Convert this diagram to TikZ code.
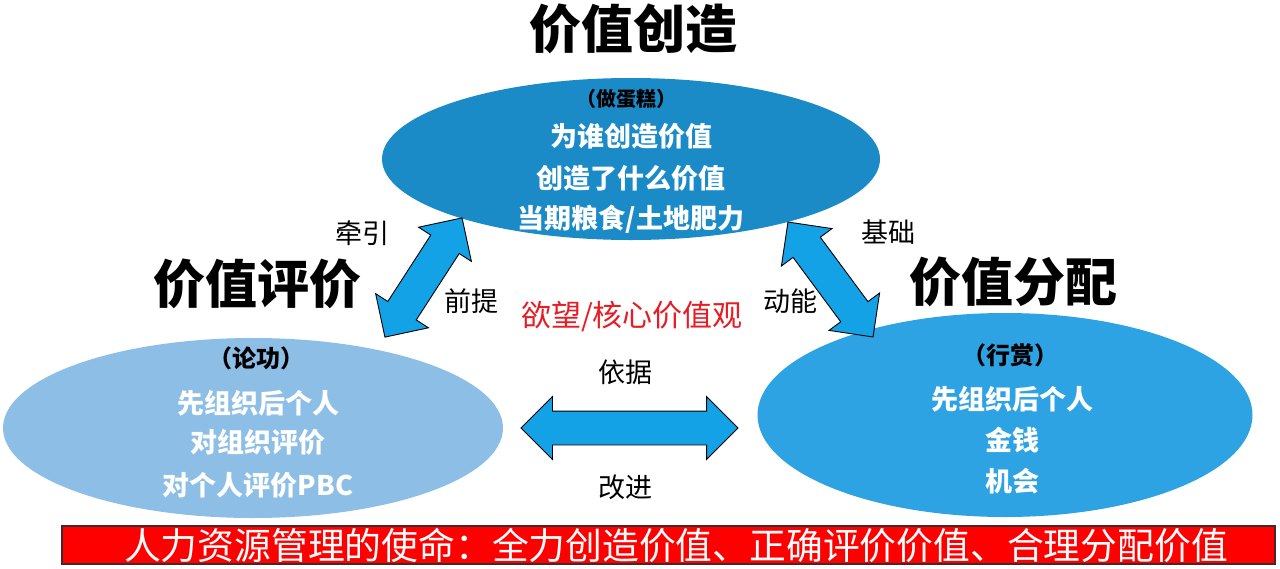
\documentclass[tikz,border=0pt]{standalone}
\usepackage{fontspec}
\newfontfamily\cjk{Noto Sans CJK SC}
\usetikzlibrary{shapes.geometric,shapes.arrows}
\definecolor{topblue}{RGB}{27,139,200}
\definecolor{leftblue}{RGB}{141,190,230}
\definecolor{rightblue}{RGB}{45,163,227}
\definecolor{arrowblue}{RGB}{20,162,230}
\definecolor{labelred}{RGB}{232,28,36}
\definecolor{bannerred}{RGB}{255,0,0}
\definecolor{bannerline}{RGB}{70,40,40}
\begin{document}
\begin{tikzpicture}[x=1pt,y=-1pt,
  ell/.style={ellipse, draw=none, inner sep=0pt},
  bigtitle/.style={font=\cjk\bfseries\fontsize{52}{60}\selectfont, text=black, inner sep=0pt},
  head/.style={font=\cjk\bfseries\fontsize{24}{28}\selectfont, text=black, inner sep=0pt},
  line/.style={font=\cjk\bfseries\fontsize{27}{32}\selectfont, text=white, inner sep=0pt},
  lbl/.style={font=\cjk\fontsize{27}{32}\selectfont, text=black, inner sep=0pt},
  redlbl/.style={font=\cjk\fontsize{30}{34}\selectfont, text=labelred, inner sep=0pt},
  blockarrow/.style={double arrow, draw=black, line width=0.9pt, fill=arrowblue,
     inner xsep=0pt, inner ysep=16.5pt, double arrow head extend=14.5pt,
     double arrow tip angle=90, minimum width=1pt}
]
\useasboundingbox (0,0) rectangle (1280,568);
\fill[white] (0,0) rectangle (1280,568);

% ellipses
\node[ell, fill=topblue, minimum width=498pt, minimum height=162pt] (create) at (631,159) {};
\node[ell, fill=leftblue, minimum width=500pt, minimum height=180pt] (eval) at (253,428) {};
\node[ell, fill=rightblue, minimum width=495pt, minimum height=204pt] (dist) at (1005,415) {};

% titles
\node[bigtitle] (t1) at (633,29) {价值创造};
\node[bigtitle] (t2) at (257,284) {价值评价};
\node[bigtitle] (t3) at (1013,282) {价值分配};

% top ellipse text
\node[head, font=\cjk\bfseries\fontsize{20}{24}\selectfont] (c0) at (626,99) {（做蛋糕）};
\node[line] (c1) at (631,136) {为谁创造价值};
\node[line] (c2) at (631,178) {创造了什么价值};
\node[line] (c3) at (631,219) {当期粮食/土地肥力};

% left ellipse text
\node[head] (e0) at (256,358) {（论功）};
\node[line] (e1) at (258,403) {先组织后个人};
\node[line] (e2) at (258,442) {对组织评价};
\node[line] (e3) at (258,485) {对个人评价PBC};

% right ellipse text
\node[head] (d0) at (1010,355) {（行赏）};
\node[line] (d1) at (1012,399) {先组织后个人};
\node[line] (d2) at (1012,440) {金钱};
\node[line] (d3) at (1012,481) {机会};

% block arrows
\node[blockarrow, minimum height=142pt, rotate=57.1] (aleft) at (423.5,277.5) {};
\node[blockarrow, minimum height=143pt, rotate=-53.5] (aright) at (830.5,279.5) {};
\node[blockarrow, minimum height=217pt] (amid) at (629.5,428) {};

% labels
\node[lbl] (l1) at (362,233) {牵引};
\node[lbl] (l2) at (471,301) {前提};
\node[lbl] (l3) at (888,232) {基础};
\node[lbl] (l4) at (790,301) {动能};
\node[lbl] (l5) at (625,372) {依据};
\node[lbl] (l6) at (625,487) {改进};
\node[redlbl] (core) at (632,317) {欲望/核心价值观};

% banner
\node[draw=bannerline, line width=1.5pt, fill=bannerred, minimum width=1213pt, minimum height=38pt, inner sep=0pt] (banner) at (668.5,545) {};
\node[font=\cjk\fontsize{36.8}{40}\selectfont, text=white, inner sep=0pt] (bannertext) at (676,545) {人力资源管理的使命：全力创造价值、正确评价价值、合理分配价值};
\end{tikzpicture}
\end{document}
